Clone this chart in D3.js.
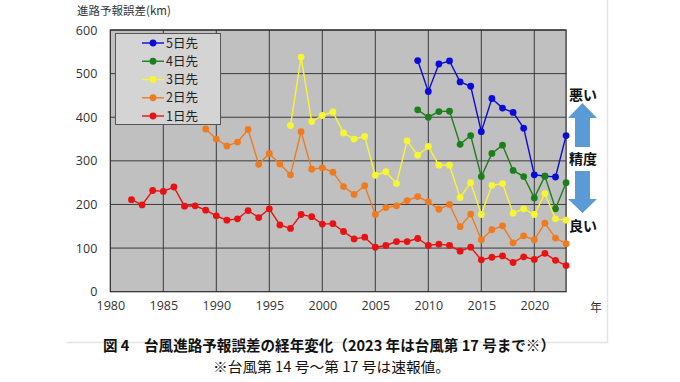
<!DOCTYPE html>
<html><head><meta charset="utf-8">
<script src="https://cdn.jsdelivr.net/npm/d3@7"></script>
<style>
html,body{margin:0;padding:0;background:#fff;}
svg{display:block;font-family:"Noto Sans CJK JP","Noto Sans",sans-serif;}
</style></head>
<body>
<svg id="c" width="680" height="382"></svg>
<script>
const xTicks = [1980,1985,1990,1995,2000,2005,2010,2015,2020];
const yTicks = [0,100,200,300,400,500,600];

const years1 = d3.range(1982, 2024);
const day1 = [211,199,232,230,240,196,197,187,174,164,167,186,170,190,153,145,177,172,155,156,138,121,125,102,106,115,115,122,106,109,106,93,102,73,79,82,67,80,74,88,72,60];
const years2 = d3.range(1989, 2024);
const day2 = [373,350,334,343,372,292,317,293,268,367,281,284,274,241,223,243,177,193,197,209,218,206,189,200,149,178,119,142,151,112,128,119,157,123,110];
const years3 = d3.range(1997, 2024);
const day3 = [381,538,390,404,412,364,350,356,267,275,248,346,313,333,290,290,216,250,177,244,248,180,190,177,225,167,164];
const years4 = d3.range(2009, 2024);
const day4 = [417,400,413,414,338,358,264,317,336,278,264,215,265,190,250];
const years5 = d3.range(2009, 2024);
const day5 = [530,459,522,529,481,471,367,443,421,411,375,268,265,263,358];

const seriesNames = ["5日先","4日先","3日先","2日先","1日先"];
const seriesColors = ["#0b0bd9","#1b7f1b","#f6f633","#f07a1e","#e81212"];
const seriesYears = [years5, years4, years3, years2, years1];
const seriesVals = [day5, day4, day3, day2, day1];

const svg = d3.select("#c");
const L = 110.3, R = 566.1, T = 30, B = 291.7;
const x = d3.scaleLinear().domain([1980, 2023]).range([L, R]);
const y = d3.scaleLinear().domain([0, 600]).range([B, T]);

// panel border
svg.append("path").attr("d", `M66,342.5 H607.5 V0`).attr("fill","none").attr("stroke","#e4e4e4").attr("stroke-width",1.5);

// plot bg
svg.append("rect").attr("x",L).attr("y",T).attr("width",R-L).attr("height",B-T).attr("fill","#c0c0c0");

// grid
svg.append("g").selectAll("line").data(yTicks.slice(1)).join("line")
  .attr("x1",L).attr("x2",R).attr("y1",d=>y(d)).attr("y2",d=>y(d))
  .attr("stroke","#3a3a3a").attr("stroke-width",1);
svg.append("g").selectAll("line").data(xTicks.slice(1)).join("line")
  .attr("x1",d=>x(d)).attr("x2",d=>x(d)).attr("y1",T).attr("y2",B)
  .attr("stroke","#3a3a3a").attr("stroke-width",1);
svg.append("rect").attr("x",L).attr("y",T).attr("width",R-L).attr("height",B-T)
  .attr("fill","none").attr("stroke","#2a2a2a").attr("stroke-width",1.2);

// axes labels
const yAx = d3.axisLeft(y).tickValues(yTicks).tickSize(0).tickPadding(13);
const gy = svg.append("g").attr("transform",`translate(${L},0)`).call(yAx);
gy.select(".domain").remove();
gy.selectAll("text").attr("font-size",12.5).attr("fill","#333").attr("font-family","'Open Sans','Noto Sans',sans-serif");

const xAx = d3.axisBottom(x).tickValues(xTicks).tickFormat(d3.format("d")).tickSize(0).tickPadding(9);
const gx = svg.append("g").attr("transform",`translate(0,${B})`).call(xAx);
gx.select(".domain").remove();
gx.selectAll("text").attr("font-size",12.5).attr("fill","#333").attr("font-family","'Open Sans','Noto Sans',sans-serif");

svg.append("text").attr("x",596).attr("y",312).attr("text-anchor","middle").attr("font-size",12).attr("fill","#333").text("年");
svg.append("text").attr("x",77).attr("y",15).attr("font-size",11.5).attr("fill","#333").text("進路予報誤差(km)");

// series
const line = d3.line().x(d=>x(d[0])).y(d=>y(d[1]));
seriesNames.forEach((n,i)=>{
  const pts = seriesYears[i].map((yr,j)=>[yr, seriesVals[i][j]]);
  const g = svg.append("g");
  g.append("path").datum(pts).attr("d",line).attr("fill","none").attr("stroke",seriesColors[i]).attr("stroke-width",1.4);
  g.selectAll("circle").data(pts).join("circle").attr("cx",d=>x(d[0])).attr("cy",d=>y(d[1])).attr("r",3.4).attr("fill",seriesColors[i]);
});

// legend
const lg = svg.append("g");
lg.append("rect").attr("x",115.5).attr("y",33.5).attr("width",105).attr("height",91).attr("fill","#d4d4d4").attr("stroke","#555").attr("stroke-width",1);
const ly = d3.scalePoint().domain(seriesNames).range([43,116]);
seriesNames.forEach((n,i)=>{
  const yy = ly(n);
  lg.append("line").attr("x1",142).attr("x2",164).attr("y1",yy).attr("y2",yy).attr("stroke",seriesColors[i]).attr("stroke-width",1.4);
  lg.append("circle").attr("cx",153).attr("cy",yy).attr("r",3.4).attr("fill",seriesColors[i]);
  lg.append("text").attr("x",166).attr("y",yy+4.5).attr("font-size",12.5).attr("fill","#222").text(n);
});

// right annotation
const ac = "#5b9bd5";
svg.append("text").attr("x",583).attr("y",100).attr("text-anchor","middle").attr("font-size",14).attr("font-weight","bold").attr("fill","#111").text("悪い");
svg.append("path").attr("d","M582.5,103 L597,118 L590,118 L590,147 L575,147 L575,118 L568,118 Z").attr("fill",ac);
svg.append("text").attr("x",583).attr("y",164).attr("text-anchor","middle").attr("font-size",14).attr("font-weight","bold").attr("fill","#111").text("精度");
svg.append("path").attr("d","M575,171 L590,171 L590,199 L597,199 L582.5,213 L568,199 L575,199 Z").attr("fill",ac);
svg.append("text").attr("x",583).attr("y",231).attr("text-anchor","middle").attr("font-size",14).attr("font-weight","bold").attr("fill","#111").text("良い");

// captions
svg.append("text").attr("x",103).attr("y",351).attr("font-size",14.5).attr("font-weight","bold").attr("fill","#111")
  .attr("textLength",452).attr("lengthAdjust","spacingAndGlyphs").text("図 4　台風進路予報誤差の経年変化（2023 年は台風第 17 号まで※）");
svg.append("text").attr("x",213).attr("y",372).attr("font-size",14).attr("fill","#111")
  .attr("textLength",237).attr("lengthAdjust","spacingAndGlyphs").text("※台風第 14 号〜第 17 号は速報値。");
</script>
</body></html>
